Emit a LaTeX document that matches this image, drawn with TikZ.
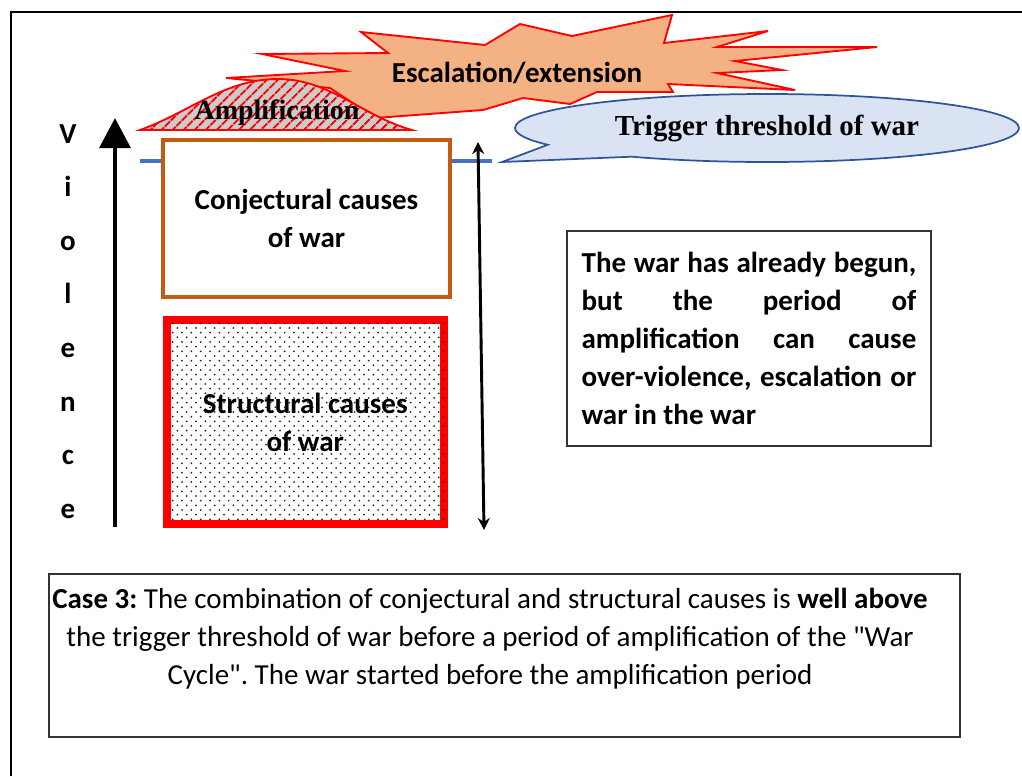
\documentclass[tikz,border=0pt]{standalone}
\usepackage{fontspec}
\setmainfont{Carlito}
\newfontfamily\timesfont{Liberation Serif}
\usetikzlibrary{shapes.callouts, arrows.meta, patterns.meta, positioning}

\definecolor{conjorange}{HTML}{C55A11}
\definecolor{burstorange}{HTML}{F4B183}
\definecolor{calloutblue}{HTML}{DAE3F3}
\definecolor{calloutedge}{HTML}{2F5597}
\definecolor{thresholdblue}{HTML}{4472C4}
\newcommand{\bigtext}{\fontsize{21.75}{28.5}\selectfont}
\frenchspacing

\begin{document}
\begin{tikzpicture}[x=0.75pt, y=-0.75pt]
% Styles
\tikzstyle{frame} = [line width=2pt, black]
\tikzstyle{vletter} = [font=\bigtext\bfseries, anchor=base, inner sep=0pt]
\tikzstyle{conjbox} = [rectangle, minimum width=215.25pt, minimum height=117.75pt, draw=conjorange, line width=2.5pt, fill=white, align=center, font=\bigtext\bfseries]
\tikzstyle{structbox} = [rectangle, minimum width=207.4pt, minimum height=153pt, draw=red, line width=6pt, align=center, font=\bigtext\bfseries, preaction={fill=white}, pattern={Dots[distance=7pt, radius=0.75pt]}, pattern color=black!85, postaction={pattern={Dots[distance=7pt, radius=0.75pt, xshift=3.5pt, yshift=3.5pt]}, pattern color=black!85}]
\tikzstyle{textbox} = [rectangle, draw=black!80, line width=0.9pt, inner sep=0pt, font=\bigtext\bfseries]
\tikzstyle{burst} = [draw=red, line width=1.4pt, fill=burstorange, line join=miter]
\tikzstyle{bump} = [draw=red, line width=1.4pt, preaction={fill=black!20}, pattern={Lines[angle=45, distance=6.5pt, line width=1.8pt]}, pattern color=red]
\tikzstyle{trigger} = [ellipse callout, draw=calloutedge, line width=1.3pt, fill=calloutblue, minimum width=378pt, minimum height=51pt, inner sep=0pt, callout pointer arc=28, font=\timesfont\fontsize{21.75}{26}\selectfont\bfseries]
\tikzstyle{bigarrow} = [line width=3.2pt, -{Triangle[length=22.5pt, width=23pt]}]
\tikzstyle{duoarrow} = [line width=2.2pt, {Stealth[length=9pt, width=9pt]}-{Stealth[length=9pt, width=9pt]}]

\useasboundingbox (0,0) rectangle (1022,776);
\draw[frame] (11,776) -- (11,12) -- (1022,12);

% escalation burst
\draw[burst] (226,78) -- (345,71) -- (262,54) -- (388,53) -- (361,32) -- (485,45) -- (520,24) -- (572,36) -- (672,15) -- (664,43) -- (768,31) -- (717,47) -- (877,47) -- (735,61) -- (782,70) -- (717,73) -- (795,90) -- (668,84) -- (673,92) -- (597,92) -- (570,104) -- (523,98) -- (483,110) -- (375,118) -- (330,88) -- cycle;
\node (escalation) at (517,73) [font=\bigtext\bfseries] {Escalation/extension};

% amplification bump
\draw[bump] (140,130) .. controls (190,112) and (225,79) .. (278,79) .. controls (330,79) and (362,116) .. (412,130) -- cycle;
\node (amplification) at (277,113) [font=\timesfont\fontsize{21}{24}\selectfont\bfseries] {Amplification};

% violence axis
\foreach \ch [count=\k from 0] in {V,i,o,l,e,n,c,e}
  \node[vletter] (v\k) at (68,{143+53.6*\k}) {\ch};
\coordinate (vbottom) at (115,527);
\coordinate (vtop) at (115,118);
\draw[bigarrow] (vbottom) -- (vtop);

% threshold
\coordinate (thleft) at (140,161);
\coordinate (thright) at (492,161);
\draw[thresholdblue, line width=3pt] (thleft) -- (thright);
\coordinate (ptip) at (502,162);
\node[trigger, callout absolute pointer=(ptip)] (threshold) at (767,128) {Trigger threshold of war};

% causes
\node[conjbox] (conj) at (306.5,218.5) {Conjectural causes\\of war};
\node[structbox] (struct) at (305.25,422) {Structural causes\\of war};

\coordinate (dtop) at (478,142);
\coordinate (dbottom) at (484,530);
\draw[duoarrow] (dtop) -- (dbottom);

% explanation boxes
\node[textbox, minimum width=273pt, minimum height=161.25pt, text width=251pt, align=justify] (begun) at (749,338.5) {The\hfill war\hfill has\hfill already\hfill begun,\\
but\hfill the\hfill period\hfill of\\
amplification\hfill can\hfill cause\\
over-violence,\hfill escalation\hfill or\\
war in the war};

\node[textbox, minimum width=683.25pt, minimum height=122.25pt] (casebox) at (504.5,655.5) {};
\node (casetext) at (490,638.5) [align=center, font=\bigtext] {\textbf{Case 3:} The combination of conjectural and structural causes is \textbf{well above}\\
the trigger threshold of war before a period of amplification of the \textquotedbl War\\
Cycle\textquotedbl. The war started before the amplification period};

\end{tikzpicture}
\end{document}
